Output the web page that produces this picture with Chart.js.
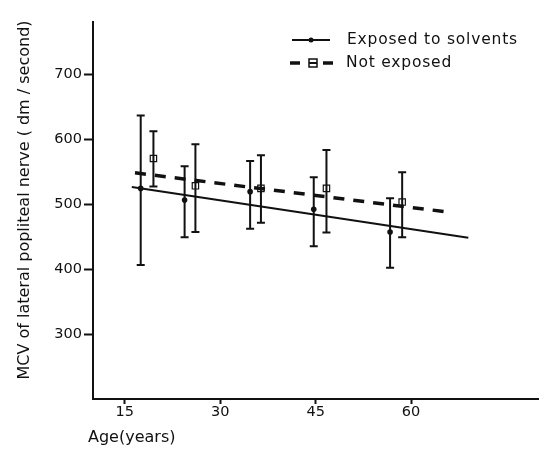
<!DOCTYPE html>
<html><head><meta charset="utf-8">
<script src="https://cdn.jsdelivr.net/npm/chart.js@4"></script>
<style>html,body{margin:0;padding:0;background:#fff}#wrap{width:544px;height:455px}</style>
</head><body><div id="wrap"><canvas id="c" width="544" height="455"></canvas></div>
<script>
// Data
const exposedAge   = [17.5, 24.4, 34.7, 44.7, 56.7];
const exposedMean  = [524, 506, 519, 492, 457];
const exposedHigh  = [636, 558, 566, 541, 509];
const exposedLow   = [406, 449, 462, 435, 402];

const notExpAge    = [19.5, 26.1, 36.4, 46.7, 58.6];
const notExpMean   = [570, 528, 524, 524, 503];
const notExpHigh   = [612, 592, 575, 583, 549];
const notExpLow    = [527, 457, 471, 456, 449];

const exposedFitAge = [16.1, 69.0];
const exposedFitVal = [526, 448];
const notExpFitAge  = [16.6, 66.3];
const notExpFitVal  = [548, 487];

const xTicks = [15, 30, 45, 60];
const yTicks = [300, 400, 500, 600, 700];
const legendLabels = ['Exposed to solvents', 'Not exposed'];
const xTitle = 'Age(years)';
const yTitle = 'MCV of lateral popliteal nerve ( dm / second)';

const FONT = "'DejaVu Sans', sans-serif";
const INK = '#111';

const toPts = (xs, ys) => xs.map((x, i) => ({x, y: ys[i]}));

const errorBars = {
  id: 'errorBars',
  afterDatasetsDraw(chart) {
    const {ctx, scales: {x, y}} = chart;
    const sets = [[exposedAge, exposedHigh, exposedLow], [notExpAge, notExpHigh, notExpLow]];
    ctx.save();
    ctx.strokeStyle = INK;
    ctx.lineWidth = 2;
    sets.forEach(([ages, hi, lo]) => {
      ages.forEach((a, i) => {
        const px = x.getPixelForValue(a);
        const pt = y.getPixelForValue(hi[i]);
        const pb = y.getPixelForValue(lo[i]);
        ctx.beginPath();
        ctx.moveTo(px, pt); ctx.lineTo(px, pb);
        ctx.moveTo(px - 4, pt); ctx.lineTo(px + 4, pt);
        ctx.moveTo(px - 4, pb); ctx.lineTo(px + 4, pb);
        ctx.stroke();
      });
    });
    ctx.restore();
  }
};

const textPlugin = {
  id: 'texts',
  afterDraw(chart) {
    const {ctx} = chart;
    ctx.save();
    ctx.fillStyle = INK;
    ctx.strokeStyle = INK;
    // axis titles
    ctx.font = '16px ' + FONT;
    ctx.textBaseline = 'middle';
    ctx.textAlign = 'left';
    ctx.fillText(xTitle, 88, 438);
    ctx.save();
    ctx.translate(25, 200);
    ctx.rotate(-Math.PI / 2);
    ctx.textAlign = 'center';
    ctx.fillText(yTitle, 0, 0);
    ctx.restore();
    // legend
    ctx.font = '15.5px ' + FONT;
    if ('letterSpacing' in ctx) ctx.letterSpacing = '0.8px';
    ctx.textAlign = 'left';
    let yy = 40;
    ctx.lineWidth = 1.8;
    ctx.beginPath(); ctx.moveTo(292, yy); ctx.lineTo(330, yy); ctx.stroke();
    ctx.beginPath(); ctx.arc(311, yy, 2.5, 0, Math.PI * 2); ctx.fill();
    ctx.fillText(legendLabels[0], 347, yy);
    yy = 63;
    ctx.lineWidth = 3.5;
    ctx.beginPath(); ctx.moveTo(290, yy); ctx.lineTo(300, yy); ctx.stroke();
    ctx.beginPath(); ctx.moveTo(323, yy); ctx.lineTo(333, yy); ctx.stroke();
    ctx.lineWidth = 1.5;
    ctx.fillStyle = '#fff';
    ctx.fillRect(309, yy - 4, 8, 8);
    ctx.strokeRect(309, yy - 4, 8, 8);
    ctx.fillStyle = INK;
    ctx.fillRect(309, yy - 1, 8, 2);
    ctx.fillText(legendLabels[1], 346, yy);
    ctx.restore();
  }
};

new Chart(document.getElementById('c'), {
  type: 'scatter',
  data: {
    datasets: [
      {
        label: 'Exposed fit', type: 'line',
        data: toPts(exposedFitAge, exposedFitVal),
        borderColor: INK, borderWidth: 2, pointRadius: 0, fill: false
      },
      {
        label: 'Not exposed fit', type: 'line',
        data: toPts(notExpFitAge, notExpFitVal),
        borderColor: INK, borderWidth: 3.5, borderDash: [11, 9], pointRadius: 0, fill: false
      },
      {
        label: legendLabels[0],
        data: toPts(exposedAge, exposedMean),
        pointStyle: 'circle', pointRadius: 2.8,
        backgroundColor: INK, borderColor: INK, borderWidth: 0
      },
      {
        label: legendLabels[1],
        data: toPts(notExpAge, notExpMean),
        pointStyle: 'rect', pointRadius: 4.5,
        backgroundColor: '#fff', borderColor: INK, borderWidth: 1.2
      }
    ]
  },
  options: {
    responsive: false,
    animation: false,
    devicePixelRatio: 1,
    layout: {padding: {top: 22, right: 4, left: 0, bottom: 0}},
    plugins: {legend: {display: false}, tooltip: {enabled: false}},
    scales: {
      x: {
        type: 'linear', min: 10, max: 80,
        afterBuildTicks: s => { s.ticks = xTicks.map(v => ({value: v})); },
        afterFit: s => { s.height = 56; },
        grid: {display: true, drawOnChartArea: false, drawTicks: true, tickLength: 5, color: INK, tickWidth: 2},
        border: {display: true, color: INK, width: 2},
        ticks: {color: INK, font: {family: FONT, size: 14.5}, padding: 0, maxRotation: 0},
        title: {display: false}
      },
      y: {
        type: 'linear', min: 200, max: 780,
        afterBuildTicks: s => { s.ticks = yTicks.map(v => ({value: v})); },
        afterFit: s => { s.width = 93; },
        grid: {display: true, drawOnChartArea: false, drawTicks: true, tickLength: 9, color: INK, tickWidth: 2},
        border: {display: true, color: INK, width: 2},
        ticks: {color: INK, font: {family: FONT, size: 14.5}, padding: 2},
        title: {display: false}
      }
    }
  },
  plugins: [errorBars, textPlugin]
});
</script></body></html>
